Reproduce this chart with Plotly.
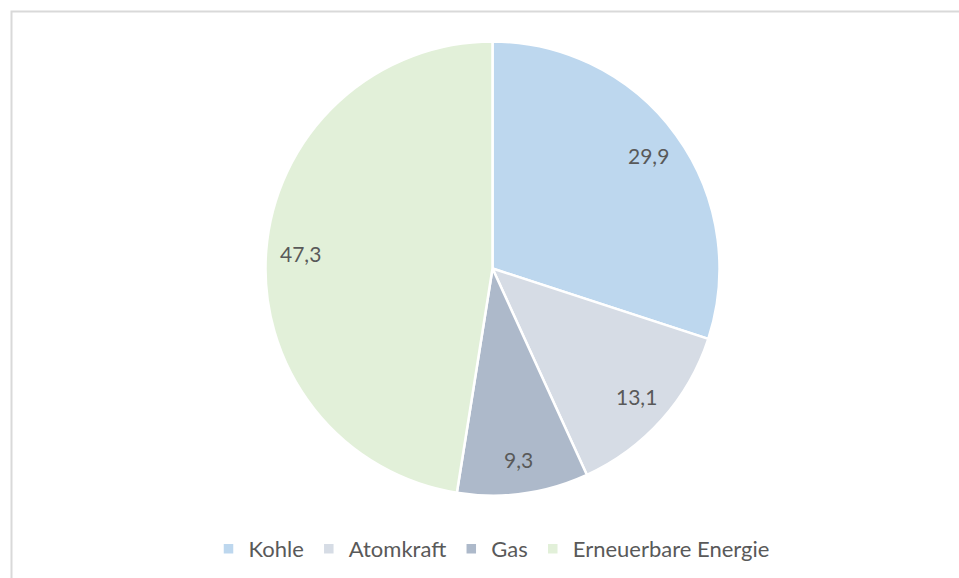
import math
import plotly.graph_objects as go

categories = ["Kohle", "Atomkraft", "Gas", "Erneuerbare Energie"]
values = [29.9, 13.1, 9.3, 47.3]
colors = ["#BDD7EE", "#D6DCE5", "#ADB9CA", "#E2F0D9"]

W, H = 959, 578
# pie geometry (pixels)
CX, CY, R = 492.5, 268.5, 227
LABEL_FRAC = 0.85
FONT = "Lato, Open Sans, sans-serif"

fig = go.Figure(go.Pie(
    labels=categories,
    values=values,
    sort=False,
    direction="clockwise",
    rotation=0,
    marker=dict(colors=colors, line=dict(color="white", width=2.5)),
    textinfo="none",
    domain=dict(x=[(CX - R) / W, (CX + R) / W], y=[(H - CY - R) / H, (H - CY + R) / H]),
    hoverinfo="label+value",
))

# data labels placed at slice mid-angles, computed from the values
total = sum(values)
annotations = []
cum = 0.0
for v in values:
    mid = (cum + v / 2) / total * 2 * math.pi
    cum += v
    px = CX + LABEL_FRAC * R * math.sin(mid)
    py = CY - LABEL_FRAC * R * math.cos(mid)
    annotations.append(dict(
        x=px / W, y=1 - py / H, xref="paper", yref="paper",
        text=f"{v:.1f}".replace(".", ","), showarrow=False,
        font=dict(family=FONT, size=21, color="#595959"),
        xanchor="center", yanchor="middle",
    ))

fig.update_layout(
    width=W, height=H,
    separators=",.",
    margin=dict(l=0, r=0, t=0, b=0),
    paper_bgcolor="white",
    plot_bgcolor="white",
    showlegend=True,
    legend=dict(
        orientation="h",
        x=0.5 + 12 / W, xanchor="center",
        y=(H - 549) / H, yanchor="middle",
        font=dict(family=FONT, size=22, color="#595959"),
        itemwidth=30,
        traceorder="normal",
    ),
    annotations=annotations,
    shapes=[dict(
        type="rect", xref="paper", yref="paper",
        x0=11.5 / W, x1=1.05, y0=-0.05, y1=1 - 11.5 / H,
        line=dict(color="#D9D9D9", width=2),
        fillcolor="rgba(0,0,0,0)",
    )],
)

fig.write_html("out.html", config={"displayModeBar": False},
               post_script="document.body.style.margin='0';")
